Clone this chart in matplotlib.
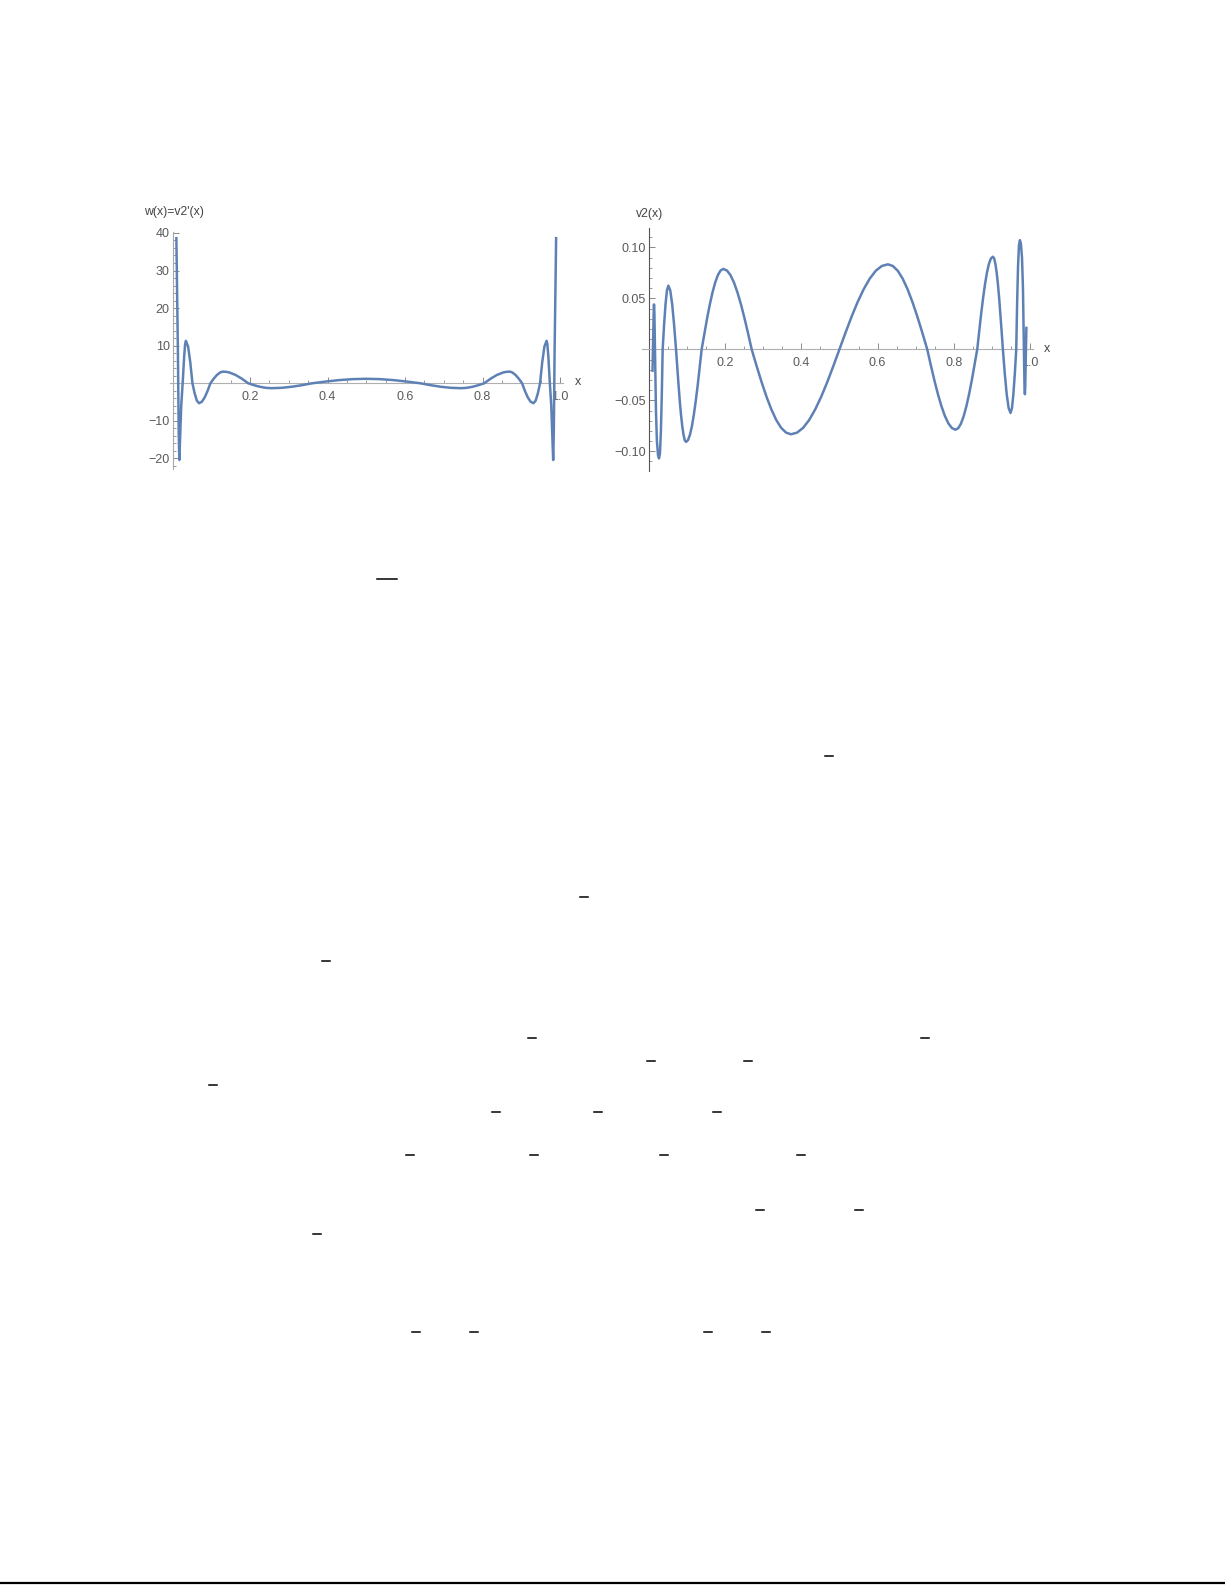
import matplotlib
matplotlib.use('Agg')
import numpy as np
import matplotlib.pyplot as plt
from matplotlib.lines import Line2D
from matplotlib.ticker import FixedLocator

# w(x) = v2'(x)
w_x = [0.0100, 0.0140, 0.0160, 0.0176, 0.0195, 0.0225, 0.0265, 0.0300, 0.0325, 0.0345,
       0.0402, 0.0458, 0.0515, 0.0571, 0.0628, 0.0684, 0.0758, 0.0831, 0.0905, 0.0978,
       0.1061, 0.1144, 0.1227, 0.1269, 0.1310, 0.1391, 0.1472, 0.1633, 0.1795, 0.1956,
       0.2105, 0.2255, 0.2405, 0.2555, 0.2816, 0.3078, 0.3339, 0.3600, 0.3950, 0.4300,
       0.4650, 0.5000,
       0.5350, 0.5700, 0.6050, 0.6400, 0.6661, 0.6922, 0.7184, 0.7445, 0.7595, 0.7745,
       0.7895, 0.8044, 0.8205, 0.8367, 0.8528, 0.8609, 0.8690, 0.8731, 0.8773, 0.8856,
       0.8939, 0.9022, 0.9095, 0.9169, 0.9242, 0.9316, 0.9372, 0.9429, 0.9485, 0.9542,
       0.9598, 0.9655, 0.9675, 0.9700, 0.9735, 0.9775, 0.9805, 0.9824, 0.9840, 0.9860,
       0.9900]
w_y = [38.6, 8.0, -13.0, -20.4, -15.0, -6.0, 0.5, 7.0, 10.3, 11.3,
       9.8, 5.65, 0.0, -2.65, -4.6, -5.3, -4.9, -3.75, -2.03, 0.0,
       1.19, 2.19, 2.86, 3.04, 3.1, 3.04, 2.86, 2.19, 1.19, 0.0,
       -0.5, -0.92, -1.2, -1.3, -1.2, -0.92, -0.5, 0.0, 0.46, 0.85,
       1.11, 1.2,
       1.11, 0.85, 0.46, 0.0, -0.5, -0.92, -1.2, -1.3, -1.2, -0.92,
       -0.5, 0.0, 1.19, 2.19, 2.86, 3.04, 3.1, 3.04, 2.86, 2.19,
       1.19, 0.0, -2.03, -3.75, -4.9, -5.3, -4.6, -2.65, 0.0, 5.65,
       9.8, 11.3, 10.3, 7.0, 0.5, -6.0, -15.0, -20.4, -13.0, 8.0,
       38.6]

# v2(x), points
v_x = [0.0100, 0.0115, 0.0130, 0.0139, 0.0150, 0.0165, 0.0190, 0.0215, 0.0245, 0.0270,
       0.0295, 0.0320, 0.0343, 0.0366, 0.0403, 0.0441, 0.0478, 0.0515, 0.0565, 0.0616,
       0.0666, 0.0716,
       0.0749, 0.0782, 0.0814, 0.0847, 0.0880, 0.0913, 0.0945, 0.0978,
       0.1029, 0.1081, 0.1132, 0.1183, 0.1234, 0.1286, 0.1337, 0.1388,
       0.1459, 0.1530, 0.1601, 0.1672, 0.1743, 0.1814, 0.1885, 0.1956,
       0.2049, 0.2142, 0.2235, 0.2327, 0.2420, 0.2513, 0.2606, 0.2699,
       0.2828, 0.2957, 0.3086, 0.3215, 0.3343, 0.3472, 0.3601, 0.3730,
       0.3889, 0.4048, 0.4206, 0.4365, 0.4524, 0.4683, 0.4841, 0.5000,
       0.5159, 0.5317, 0.5476, 0.5635, 0.5794, 0.5952, 0.6111, 0.6270,
       0.6399, 0.6528, 0.6657, 0.6785, 0.6914, 0.7043, 0.7172, 0.7301,
       0.7394, 0.7487, 0.7580, 0.7673, 0.7765, 0.7858, 0.7951, 0.8044,
       0.8115, 0.8186, 0.8257, 0.8328, 0.8399, 0.8470, 0.8541, 0.8612,
       0.8663, 0.8714, 0.8766, 0.8817, 0.8868, 0.8919, 0.8971, 0.9022,
       0.9055, 0.9087, 0.9120, 0.9153, 0.9186, 0.9218, 0.9251, 0.9284,
       0.9334, 0.9384, 0.9435, 0.9485, 0.9522, 0.9559, 0.9597, 0.9634,
       0.9657, 0.9680, 0.9705, 0.9730, 0.9755, 0.9785, 0.9810, 0.9835, 0.9850, 0.9861,
       0.9870, 0.9885, 0.9900]
v_y = [-0.021, 0.010, 0.036, 0.044, 0.035, 0.000, -0.060, -0.090, -0.104, -0.107,
       -0.102, -0.080, -0.045, 0.000, 0.0239, 0.0441, 0.0577, 0.0624, 0.0577, 0.0441,
       0.0239, 0.000,
       -0.0177, -0.0348, -0.0504, -0.0642, -0.0755, -0.0839, -0.0891, -0.0908,
       -0.0891, -0.0839, -0.0755, -0.0642, -0.0504, -0.0348, -0.0177, 0.000,
       0.0154, 0.0302, 0.0438, 0.0557, 0.0655, 0.0728, 0.0773, 0.0788,
       0.0773, 0.0728, 0.0655, 0.0557, 0.0438, 0.0302, 0.0154, 0.000,
       -0.0163, -0.0319, -0.0463, -0.0589, -0.0693, -0.0770, -0.0817, -0.0833,
       -0.0817, -0.0770, -0.0693, -0.0589, -0.0463, -0.0319, -0.0163, 0.000,
       0.0163, 0.0319, 0.0463, 0.0589, 0.0693, 0.0770, 0.0817, 0.0833,
       0.0817, 0.0770, 0.0693, 0.0589, 0.0463, 0.0319, 0.0163, 0.000,
       -0.0154, -0.0302, -0.0438, -0.0557, -0.0655, -0.0728, -0.0773, -0.0788,
       -0.0773, -0.0728, -0.0655, -0.0557, -0.0438, -0.0302, -0.0154, 0.000,
       0.0177, 0.0348, 0.0504, 0.0642, 0.0755, 0.0839, 0.0891, 0.0908,
       0.0891, 0.0839, 0.0755, 0.0642, 0.0504, 0.0348, 0.0177, 0.000,
       -0.0239, -0.0441, -0.0577, -0.0624, -0.0577, -0.0441, -0.0239, 0.000,
       0.045, 0.080, 0.102, 0.107, 0.104, 0.090, 0.060, 0.000, -0.035, -0.044,
       -0.036, -0.010, 0.021]

x_ticks = [0.2, 0.4, 0.6, 0.8, 1.0]
x_labels = ['0.2', '0.4', '0.6', '0.8', '1.0']
w_ticks = [-20, -10, 10, 20, 30, 40]
w_labels = ['\u221220', '\u221210', '10', '20', '30', '40']
v_ticks = [-0.10, -0.05, 0.05, 0.10]
v_labels = ['\u22120.10', '\u22120.05', '0.05', '0.10']

# stray overbars left on the rest of the page: (centre x, y, width) in pixels
marks = [(387, 579, 20), (829, 756, 8), (584, 897, 8), (326, 961, 8),
         (532, 1038, 8), (925, 1038, 8), (651, 1061, 8), (748, 1061, 8),
         (213, 1085, 8), (496, 1112, 8), (598, 1112, 8), (717, 1112, 8),
         (410, 1155, 8), (534, 1155, 8), (664, 1155, 8), (801, 1155, 8),
         (760, 1210, 8), (859, 1210, 8), (317, 1234, 8),
         (416, 1332, 8), (474, 1332, 8), (708, 1332, 8), (766, 1332, 8)]

W, H = 1225, 1585
plt.rcParams['font.family'] = ['Liberation Sans', 'DejaVu Sans']
fig = plt.figure(figsize=(W / 100, H / 100), dpi=100)

blue = '#5E81B5'
tick_col = '#8a8a8a'
lab_col = '#5a5a5a'


def box(x0, y0, x1, y1):
    return [x0 / W, 1 - y1 / H, (x1 - x0) / W, (y1 - y0) / H]


def style(ax, xb, yb, yticks, ylabels, yminor, ycol):
    ax.patch.set_visible(False)
    for s in ['top', 'right']:
        ax.spines[s].set_visible(False)
    ax.spines['left'].set_position(('data', 0))
    ax.spines['bottom'].set_position(('data', 0))
    ax.spines['left'].set_bounds(*yb)
    ax.spines['bottom'].set_bounds(*xb)
    ax.spines['left'].set_color(ycol)
    ax.spines['bottom'].set_color('#b0b0b0')
    ax.spines['left'].set_linewidth(0.8)
    ax.spines['bottom'].set_linewidth(0.8)
    ax.set_xticks(x_ticks)
    ax.set_xticklabels(x_labels)
    ax.set_yticks(yticks)
    ax.set_yticklabels(ylabels)
    ax.xaxis.set_minor_locator(FixedLocator(np.arange(0.05, 1.001, 0.05)))
    ax.yaxis.set_minor_locator(FixedLocator(yminor))
    ax.tick_params(which='both', direction='in', color=tick_col,
                   labelcolor=lab_col, labelsize=9)
    ax.tick_params(which='major', length=4, width=0.7)
    ax.tick_params(which='minor', length=2.5, width=0.6)
    ax.tick_params(axis='x', pad=5.5)
    ax.tick_params(axis='y', pad=2)


# left panel
ax1 = fig.add_axes(box(150, 200, 590, 480))
ax1.plot(w_x, w_y, color=blue, lw=1.8, zorder=5, clip_on=False,
         solid_joinstyle='round')
ax1.set_xlim((150 - 172.5) / 387.5, (590 - 172.5) / 387.5)
ax1.set_ylim((383.3 - 480) / 3.76, (383.3 - 200) / 3.76)
style(ax1, (-0.006, 1.008), (-22.7, 40.3), w_ticks, w_labels,
      np.arange(-22, 41, 2), '#a8a8a8')
fig.text(144 / W, 1 - 212 / H, "w(x)=v2'(x)", fontsize=8.8, color='#444444',
         ha='left', va='center')
fig.text(575 / W, 1 - 382 / H, 'x', fontsize=9, color='#444444',
         ha='left', va='center')

# right panel
ax2 = fig.add_axes(box(620, 200, 1060, 480))
ax2.plot(v_x, v_y, color=blue, lw=1.8, zorder=5, clip_on=False,
         solid_joinstyle='round')
ax2.set_xlim((620 - 648.7) / 381.5, (1060 - 648.7) / 381.5)
ax2.set_ylim((349.3 - 480) / 1020, (349.3 - 200) / 1020)
style(ax2, (-0.018, 1.007), (-0.1193, 0.1187), v_ticks, v_labels,
      np.arange(-0.11, 0.111, 0.01), '#555555')
fig.text(636 / W, 1 - 214 / H, 'v2(x)', fontsize=8.8, color='#444444',
         ha='left', va='center')
fig.text(1044 / W, 1 - 349 / H, 'x', fontsize=9, color='#444444',
         ha='left', va='center')

# rest of the page
for cx, cy, wd in marks:
    fig.add_artist(Line2D([(cx - wd / 2) / W, (cx + wd / 2) / W], [1 - cy / H] * 2,
                          color='black', lw=1.1))
fig.add_artist(Line2D([0, 1], [1 - 1583 / H] * 2, color='black', lw=1.6))

fig.savefig('out.png', dpi=100, facecolor='white')
